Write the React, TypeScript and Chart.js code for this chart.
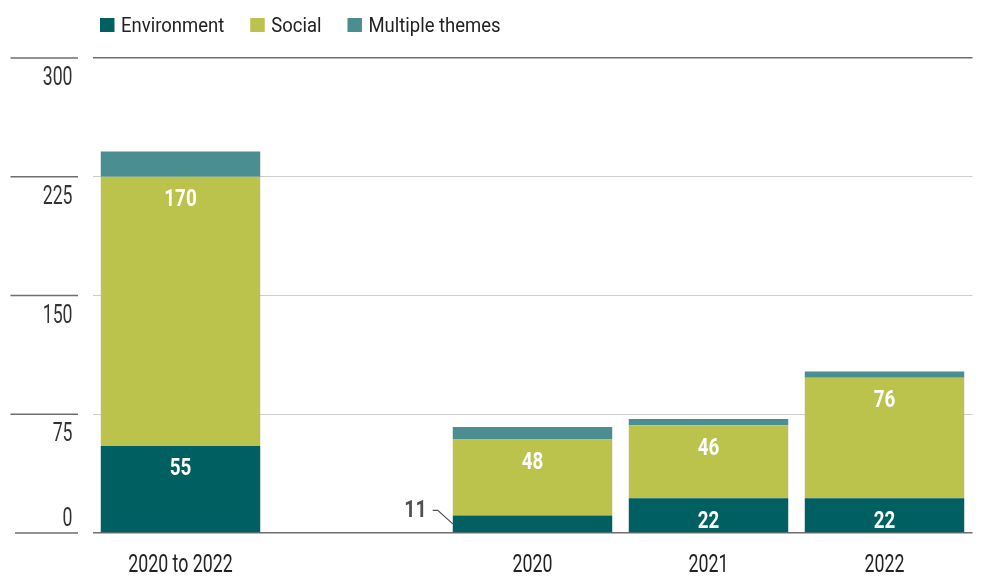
import React, { useEffect, useRef } from "react";
import { Chart, registerables } from "chart.js";

Chart.register(...registerables);

const categories = ["2020 to 2022", "", "2020", "2021", "2022"];
const environment = [55, null, 11, 22, 22];
const social = [170, null, 48, 46, 76];
const multipleThemes = [16, null, 8, 4, 4];
const yTicks = [0, 75, 150, 225, 300];
const seriesNames = ["Environment", "Social", "Multiple themes"];
const seriesColors = ["#005f61", "#bcc34d", "#4a8e92"];

const FONT = "Roboto, 'Liberation Sans', sans-serif";

function drawText(
  ctx: CanvasRenderingContext2D,
  text: string,
  x: number,
  y: number,
  align: "left" | "center" | "right",
  font: string,
  color: string,
  sx: number
) {
  ctx.save();
  ctx.font = font;
  ctx.fillStyle = color;
  ctx.textBaseline = "alphabetic";
  ctx.textAlign = "left";
  const w = ctx.measureText(text).width * sx;
  const left = align === "center" ? x - w / 2 : align === "right" ? x - w : x;
  ctx.translate(left, y);
  ctx.scale(sx, 1);
  ctx.fillText(text, 0, 0);
  ctx.restore();
  return w;
}

const customPlugin = {
  id: "custom",
  afterDatasetsDraw(chart: any) {
    const ctx: CanvasRenderingContext2D = chart.ctx;
    [0, 1].forEach((di) => {
      const meta = chart.getDatasetMeta(di);
      const data = chart.data.datasets[di].data;
      meta.data.forEach((el: any, i: number) => {
        const v = data[i];
        if (v === null || v === undefined) return;
        const top = Math.min(el.y, el.base);
        const bottom = Math.max(el.y, el.base);
        const h = bottom - top;
        if (h >= 30) {
          drawText(ctx, String(v), el.x, top + 29.5, "center", `bold 23.5px ${FONT}`, "#ffffff", 0.8);
        } else {
          const barLeft = el.x - el.width / 2;
          const mid = (top + bottom) / 2;
          ctx.save();
          ctx.strokeStyle = "#505050";
          ctx.lineWidth = 1.2;
          ctx.beginPath();
          ctx.moveTo(barLeft - 20, mid - 13.5);
          ctx.lineTo(barLeft - 15, mid - 13.5);
          ctx.lineTo(barLeft, mid);
          ctx.stroke();
          ctx.restore();
          drawText(ctx, String(v), barLeft - 26, mid - 7, "right", `bold 23px ${FONT}`, "#505050", 0.85);
        }
      });
    });
  },
  afterDraw(chart: any) {
    const ctx: CanvasRenderingContext2D = chart.ctx;
    const yScale = chart.scales.y;
    const xScale = chart.scales.x;
    yTicks.forEach((v) => {
      const py = yScale.getPixelForValue(v);
      ctx.save();
      ctx.strokeStyle = "#6e6e6e";
      ctx.lineWidth = 1.5;
      ctx.beginPath();
      ctx.moveTo(v === 0 ? 15 : 10.5, py);
      ctx.lineTo(78, py);
      ctx.stroke();
      ctx.restore();
      const base = v === 0 ? py - 7 : py + 27;
      drawText(ctx, String(v), 72.5, base, "right", `26px ${FONT}`, "#333333", 0.68);
    });
    categories.forEach((c, i) => {
      if (!c) return;
      const px = xScale.getPixelForValue(i);
      drawText(ctx, c, px, 572, "center", `26.5px ${FONT}`, "#222222", 0.67);
    });
    let lx = 100;
    seriesNames.forEach((name, i) => {
      ctx.save();
      ctx.fillStyle = seriesColors[i];
      ctx.fillRect(lx, 18, 14.5, 14);
      ctx.restore();
      const w = drawText(ctx, name, lx + 21, 32, "left", `21px ${FONT}`, "#222222", 0.88);
      lx = lx + 21 + w + 26;
    });
  },
};

export default function App() {
  const ref = useRef<HTMLCanvasElement>(null);
  useEffect(() => {
    if (!ref.current) return;
    const chart = new Chart(ref.current, {
      type: "bar",
      data: {
        labels: categories,
        datasets: [
          { label: seriesNames[0], data: environment, backgroundColor: seriesColors[0] },
          { label: seriesNames[1], data: social, backgroundColor: seriesColors[1] },
          { label: seriesNames[2], data: multipleThemes, backgroundColor: seriesColors[2] },
        ],
      },
      options: {
        responsive: false,
        animation: false,
        devicePixelRatio: 1,
        layout: { padding: { left: 92.5, right: 14.5, top: 58, bottom: 43 } },
        datasets: { bar: { barPercentage: 0.906, categoryPercentage: 1, borderWidth: 0 } },
        plugins: { legend: { display: false }, tooltip: { enabled: false } },
        scales: {
          x: {
            stacked: true,
            grid: { display: false, drawTicks: false },
            border: { display: false },
            ticks: { display: false },
            afterFit: (s: any) => {
              s.height = 0;
            },
          },
          y: {
            stacked: true,
            min: 0,
            max: 300,
            ticks: { display: false, stepSize: 75 },
            grid: {
              drawTicks: false,
              color: (c: any) => (c.tick && (c.tick.value === 0 || c.tick.value === 300) ? "#6e6e6e" : "#cccccc"),
              lineWidth: (c: any) => (c.tick && (c.tick.value === 0 || c.tick.value === 300) ? 1.5 : 1),
            },
            border: { display: false },
            afterFit: (s: any) => {
              s.width = 0;
            },
          },
        },
      },
      plugins: [customPlugin],
    } as any);
    return () => chart.destroy();
  }, []);
  return (
    <div style={{ position: "absolute", left: 0, top: 0, width: 987, height: 576, background: "#fff" }}>
      <canvas ref={ref} width={987} height={576} style={{ width: 987, height: 576 }} />
    </div>
  );
}
